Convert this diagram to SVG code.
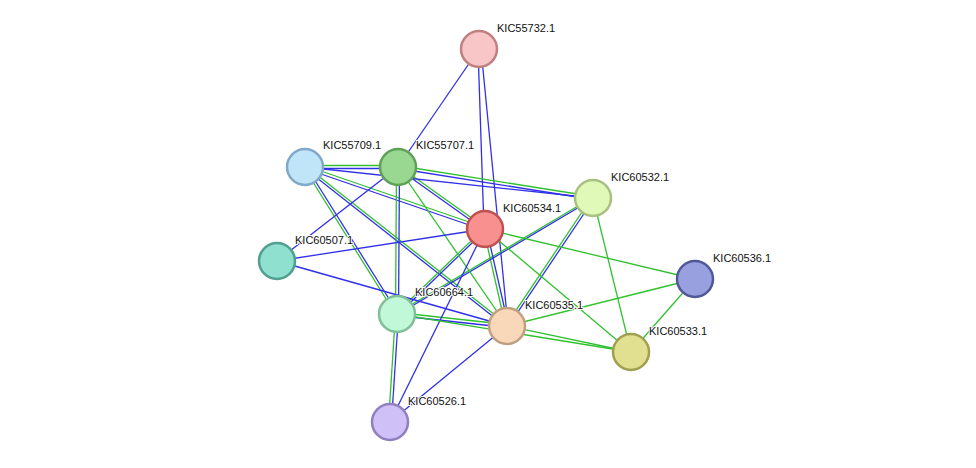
<svg xmlns="http://www.w3.org/2000/svg" width="976" height="468" viewBox="0 0 976 468">
<style>
.b{stroke:#3030e8;stroke-width:1.3;fill:none}
.g{stroke:#30c030;stroke-width:1.3;fill:none}
.n{stroke-width:2.5}
text{font-family:"Liberation Sans",Arial,sans-serif;font-size:11px;fill:#111;paint-order:stroke;stroke:#fff;stroke-width:2px}
</style>
<rect width="976" height="468" fill="#fff"/>
<g id="edges">
<line class="b" x1="479" y1="49" x2="398" y2="167"/>
<line class="b" x1="478" y1="49" x2="484" y2="229"/>
<line class="b" x1="481" y1="49" x2="508" y2="326"/>
<g transform="translate(0,-1.5)"><line class="g" x1="305" y1="167" x2="398" y2="167"/><line class="g" x1="305" y1="167" x2="485" y2="229"/><line class="g" x1="398" y1="167" x2="485" y2="229"/><line class="g" x1="398" y1="167" x2="593" y2="198"/><line class="g" x1="305" y1="167" x2="507" y2="326"/></g>
<g transform="translate(0,1.5)"><line class="b" x1="305" y1="167" x2="398" y2="167"/><line class="b" x1="305" y1="167" x2="485" y2="229"/><line class="b" x1="398" y1="167" x2="485" y2="229"/><line class="b" x1="398" y1="167" x2="593" y2="198"/><line class="b" x1="305" y1="167" x2="507" y2="326"/></g>
<g transform="translate(-1.5,0)"><line class="g" x1="305" y1="167" x2="397" y2="314"/><line class="g" x1="398" y1="167" x2="397" y2="314"/><line class="g" x1="485" y1="229" x2="507" y2="326"/><line class="g" x1="593" y1="198" x2="507" y2="326"/><line class="g" x1="397" y1="314" x2="390" y2="422"/><line class="g" x1="485" y1="229" x2="397" y2="314"/><line class="g" x1="593" y1="198" x2="397" y2="314"/></g>
<g transform="translate(1.5,0)"><line class="b" x1="305" y1="167" x2="397" y2="314"/><line class="b" x1="398" y1="167" x2="397" y2="314"/><line class="b" x1="485" y1="229" x2="507" y2="326"/><line class="b" x1="593" y1="198" x2="507" y2="326"/><line class="b" x1="397" y1="314" x2="390" y2="422"/><line class="b" x1="485" y1="229" x2="397" y2="314"/><line class="b" x1="593" y1="198" x2="397" y2="314"/></g>
<g transform="translate(0,-1.5)"><line class="g" x1="397" y1="314" x2="507" y2="326"/></g>
<g transform="translate(0,1.5)"><line class="b" x1="397" y1="314" x2="507" y2="326"/></g>
<line class="b" x1="305" y1="167" x2="593" y2="198"/>
<line class="g" x1="398" y1="167" x2="507" y2="326"/>
<line class="b" x1="398" y1="167" x2="277" y2="261"/>
<line class="b" x1="485" y1="229" x2="277" y2="261"/>
<line class="b" x1="277" y1="261" x2="507" y2="326"/>
<line class="g" x1="485" y1="229" x2="695" y2="279"/>
<line class="g" x1="485" y1="229" x2="631" y2="352"/>
<line class="b" x1="485" y1="229" x2="390" y2="422"/>
<line class="g" x1="593" y1="198" x2="631" y2="352"/>
<line class="g" x1="397" y1="314" x2="631" y2="352"/>
<line class="g" x1="507" y1="326" x2="695" y2="279"/>
<line class="g" x1="507" y1="326" x2="631" y2="352"/>
<line class="b" x1="507" y1="326" x2="390" y2="422"/>
<line class="g" x1="695" y1="279" x2="631" y2="352"/>
</g>
<g id="n55732"><circle class="n" cx="479" cy="49" r="18" fill="#f8c6c6" stroke="#c08080"/><text x="497" y="32">KIC55732.1</text></g>
<g id="n55709"><circle class="n" cx="305" cy="167" r="18" fill="#c0e4f8" stroke="#80a8c8"/><text x="323" y="149">KIC55709.1</text></g>
<g id="n55707"><circle class="n" cx="398" cy="167" r="18" fill="#98d890" stroke="#60a058"/><text x="416" y="149">KIC55707.1</text></g>
<g id="n60532"><circle class="n" cx="593" cy="198" r="18" fill="#e0f8b8" stroke="#a8c080"/><text x="611" y="181">KIC60532.1</text></g>
<g id="n60534"><circle class="n" cx="485" cy="229" r="18" fill="#f89090" stroke="#c05050"/><text x="503" y="212">KIC60534.1</text></g>
<g id="n60507"><circle class="n" cx="277" cy="261" r="18" fill="#90e0d0" stroke="#50a090"/><text x="295" y="244">KIC60507.1</text></g>
<g id="n60536"><circle class="n" cx="695" cy="279" r="18" fill="#98a0e0" stroke="#505898"/><text x="713" y="262">KIC60536.1</text></g>
<g id="n60664"><circle class="n" cx="397" cy="314" r="18" fill="#c0f8d8" stroke="#80c098"/><text x="415" y="296">KIC60664.1</text></g>
<g id="n60535"><circle class="n" cx="507" cy="326" r="18" fill="#f8d8b8" stroke="#c0a080"/><text x="525" y="309">KIC60535.1</text></g>
<g id="n60533"><circle class="n" cx="631" cy="352" r="18" fill="#e0e090" stroke="#a0a050"/><text x="649" y="335">KIC60533.1</text></g>
<g id="n60526"><circle class="n" cx="390" cy="422" r="18" fill="#d0c0f8" stroke="#9080c0"/><text x="408" y="405">KIC60526.1</text></g>
</svg>
